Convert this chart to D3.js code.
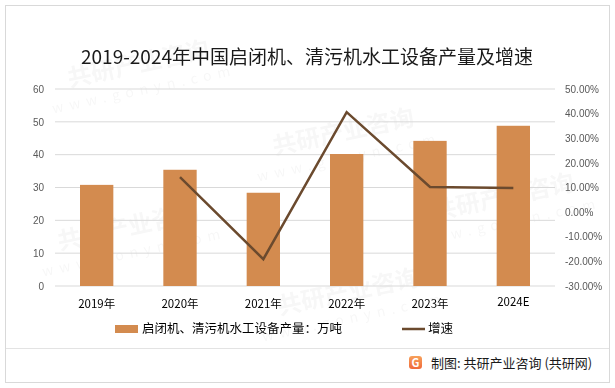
<!DOCTYPE html>
<html>
<head>
<meta charset="utf-8">
<script src="https://cdn.jsdelivr.net/npm/d3@7"></script>
<style>
  body { margin: 0; background: #fff; }
  text { font-family: "Noto Sans CJK SC", "Noto Sans", sans-serif; }
</style>
</head>
<body>
<div id="vis"></div>
<script>
// data
const years = ["2019年", "2020年", "2021年", "2022年", "2023年", "2024E"];
const output = [30.8, 35.4, 28.4, 40.2, 44.2, 48.8];
const growth = [null, 14.2, -19.1, 40.6, 10.2, 9.8];
const leftTicks = [0, 10, 20, 30, 40, 50, 60];
const rightTicks = [-30, -20, -10, 0, 10, 20, 30, 40, 50];

const W = 615, H = 388;
const margin = { top: 89, right: 60, bottom: 102, left: 55 };
const width = W - margin.left - margin.right;
const height = H - margin.top - margin.bottom;

const barColor = "#D38B4F";
const lineColor = "#6B4A2E";

const svg = d3.select("#vis").append("svg")
  .attr("width", W).attr("height", H);

// frame
svg.append("rect")
  .attr("x", 5.5).attr("y", 5.5)
  .attr("width", W - 11).attr("height", H - 11)
  .attr("fill", "#fff").attr("stroke", "#d9d9d9");

// faint watermarks, kept inside the frame
const wm = svg.append("g").attr("fill", "#000").attr("opacity", 0.035)
  .attr("font-weight", "bold");
[[140, 72], [345, 140], [130, 235], [350, 300], [505, 205]].forEach(([x, y]) => {
  wm.append("text")
    .attr("transform", `translate(${x},${y}) rotate(-12)`)
    .attr("text-anchor", "middle")
    .attr("font-size", 24)
    .text("共研产业咨询");
  wm.append("text")
    .attr("transform", `translate(${x + 5},${y + 22}) rotate(-12)`)
    .attr("text-anchor", "middle")
    .attr("font-size", 14)
    .attr("font-weight", "normal")
    .attr("letter-spacing", 6)
    .text("www.gonyn.com");
});

// title
svg.append("text")
  .attr("x", 307).attr("y", 64)
  .attr("text-anchor", "middle")
  .attr("font-size", 19)
  .attr("fill", "#1a1a1a")
  .text("2019-2024年中国启闭机、清污机水工设备产量及增速");

const g = svg.append("g")
  .attr("transform", `translate(${margin.left},${margin.top})`);

// scales
const x = d3.scaleBand()
  .domain(years)
  .range([0, width])
  .paddingInner(0.6)
  .paddingOuter(0.3);

const yL = d3.scaleLinear().domain([0, 60]).range([height, 0]);
const yR = d3.scaleLinear().domain([-30, 50]).range([height, 0]);

// grid
g.selectAll(".grid")
  .data(leftTicks)
  .join("line")
  .attr("x1", 0).attr("x2", width)
  .attr("y1", d => yL(d)).attr("y2", d => yL(d))
  .attr("stroke", "#d9d9d9").attr("stroke-width", 1);

// left axis
const axL = g.append("g").call(d3.axisLeft(yL).tickValues(leftTicks).tickSize(0).tickPadding(11));
axL.select(".domain").remove();
axL.selectAll("text")
  .attr("font-size", 10).attr("fill", "#595959")
  .style("font-family", "'Liberation Sans', Arial, sans-serif");

// right axis
const axR = g.append("g")
  .attr("transform", `translate(${width},0)`)
  .call(d3.axisRight(yR).tickValues(rightTicks).tickSize(0).tickPadding(10)
    .tickFormat(d => d.toFixed(2) + "%"));
axR.select(".domain").remove();
axR.selectAll("text")
  .attr("font-size", 10).attr("fill", "#595959")
  .style("font-family", "'Liberation Sans', Arial, sans-serif");

// bars
g.selectAll(".bar")
  .data(output)
  .join("rect")
  .attr("x", (d, i) => x(years[i]))
  .attr("y", d => yL(d))
  .attr("width", x.bandwidth())
  .attr("height", d => yL(0) - yL(d))
  .attr("fill", barColor);

// line
const lineData = growth.map((v, i) => ({ year: years[i], v })).filter(d => d.v != null);
g.append("path")
  .datum(lineData)
  .attr("fill", "none")
  .attr("stroke", lineColor)
  .attr("stroke-width", 2.5)
  .attr("d", d3.line()
    .x(d => x(d.year) + x.bandwidth() / 2)
    .y(d => yR(d.v)));

// x labels
g.selectAll(".xlab")
  .data(years)
  .join("text")
  .attr("x", d => x(d) + x.bandwidth() / 2)
  .attr("y", (d, i) => height + (i === 5 ? 20 : 22))
  .attr("text-anchor", "middle")
  .attr("font-size", 11.5)
  .attr("fill", "#000")
  .text(d => d);

// legend
const lg = svg.append("g").attr("transform", "translate(0,329)");
lg.append("rect").attr("x", 115).attr("y", -4).attr("width", 23).attr("height", 8).attr("fill", barColor);
lg.append("text").attr("x", 142).attr("y", 0).attr("dy", "0.35em")
  .attr("font-size", 12.5).attr("fill", "#000")
  .text("启闭机、清污机水工设备产量：万吨");
lg.append("line").attr("x1", 402).attr("x2", 425).attr("y1", 0).attr("y2", 0)
  .attr("stroke", lineColor).attr("stroke-width", 2.5);
lg.append("text").attr("x", 428).attr("y", 0).attr("dy", "0.35em")
  .attr("font-size", 12.5).attr("fill", "#000")
  .text("增速");

// footer separator
svg.append("line")
  .attr("x1", 6).attr("x2", W - 6).attr("y1", 348.5).attr("y2", 348.5)
  .attr("stroke", "#e3e3e3");

// footer logo + source
const logo = svg.append("g").attr("transform", "translate(409,356)");
const grad = svg.append("defs").append("linearGradient").attr("id", "lg1")
  .attr("x1", 0).attr("y1", 0).attr("x2", 0).attr("y2", 1);
grad.append("stop").attr("offset", "0%").attr("stop-color", "#f7a05a");
grad.append("stop").attr("offset", "100%").attr("stop-color", "#f06a3a");
logo.append("rect").attr("width", 13).attr("height", 13).attr("rx", 3).attr("fill", "url(#lg1)");
logo.append("text").attr("x", 6.5).attr("y", 10.5).attr("text-anchor", "middle")
  .attr("font-size", 11).attr("font-weight", "bold").attr("fill", "#fff").text("G");

svg.append("text")
  .attr("x", 431).attr("y", 363)
  .attr("dy", "0.35em")
  .attr("font-size", 13)
  .attr("fill", "#1a1a1a")
  .text("制图: 共研产业咨询 (共研网)");
</script>
</body>
</html>
